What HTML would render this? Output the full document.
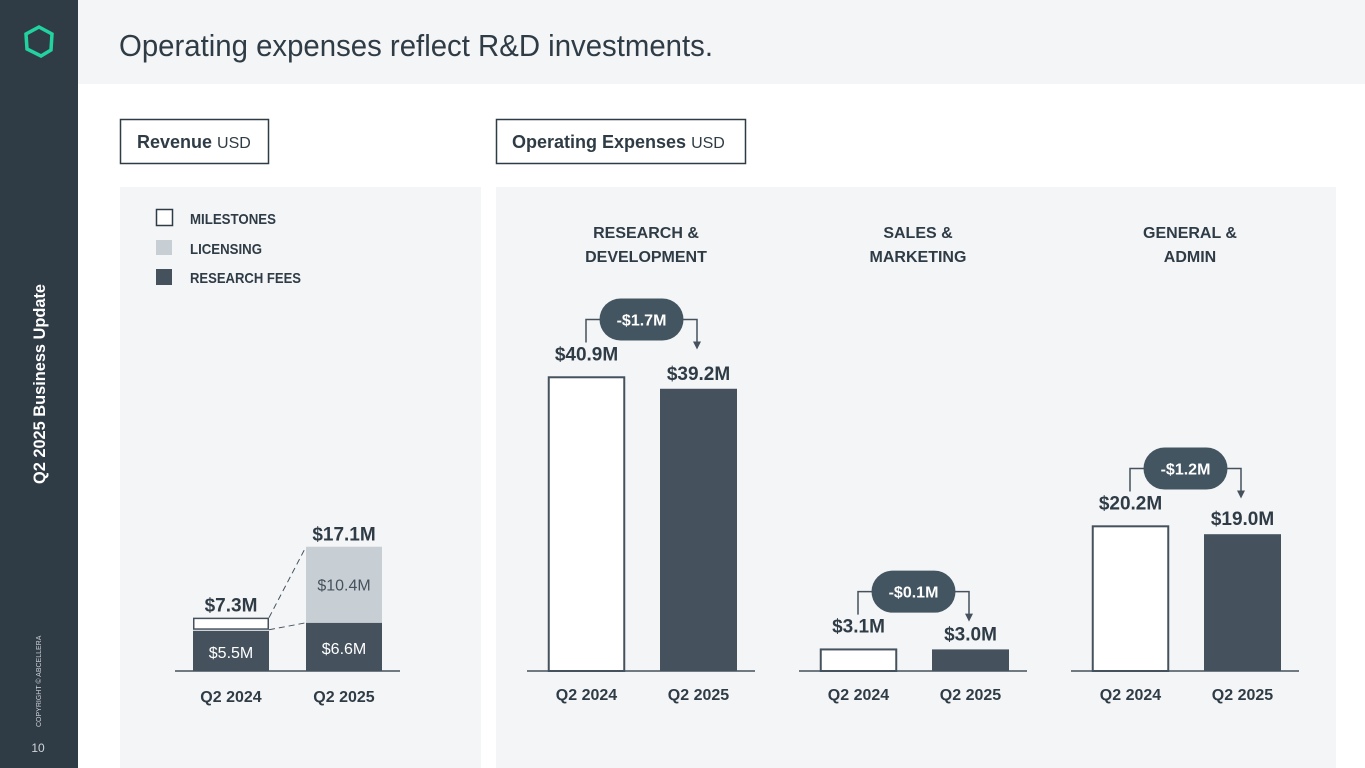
<!DOCTYPE html>
<html><head><meta charset="utf-8">
<style>
html,body{margin:0;padding:0;width:1365px;height:768px;overflow:hidden;background:#fff;font-family:"Liberation Sans",sans-serif}
svg{display:block}
</style></head>
<body>
<svg id="s" width="1365" height="768" viewBox="0 0 1365 768" xmlns="http://www.w3.org/2000/svg" font-family="Liberation Sans, sans-serif">
<rect x="0" y="0" width="78" height="768" fill="#2f3c46"/>
<polygon points="39,27 52,34 51,50 41,56 27,49 26,34" fill="none" stroke="#22d3a0" stroke-width="3.5"/>
<text transform="translate(45,484) rotate(-90)" fill="#fff" font-size="17" font-weight="bold" textLength="200" lengthAdjust="spacingAndGlyphs">Q2 2025 Business Update</text>
<text transform="translate(41,727) rotate(-90)" fill="#cfd4d8" font-size="7">COPYRIGHT © ABCELLERA</text>
<text x="38" y="752" text-anchor="middle" fill="#cfd4d8" font-size="12">10</text>
<rect x="78" y="0" width="1287" height="84" fill="#f4f5f6"/>
<text x="119" y="56" fill="#2f3c46" font-size="31" textLength="594" lengthAdjust="spacingAndGlyphs">Operating expenses reflect R&amp;D investments.</text>
<g>
<rect x="120.5" y="119.5" width="148" height="44" fill="#fff" stroke="#2f3c46" stroke-width="1.5"/>
<text x="137" y="148" fill="#2f3c46" font-size="18" font-weight="bold">Revenue <tspan font-weight="normal" font-size="16">USD</tspan></text>
</g>
<g>
<rect x="496.5" y="119.5" width="249" height="44" fill="#fff" stroke="#2f3c46" stroke-width="1.5"/>
<text x="512" y="148" fill="#2f3c46" font-size="18" font-weight="bold">Operating Expenses <tspan font-weight="normal" font-size="16">USD</tspan></text>
</g>
<rect x="120" y="187" width="361" height="581" fill="#f4f5f7"/>
<rect x="496" y="187" width="840" height="581" fill="#f4f5f7"/>
<g font-size="15" font-weight="bold" fill="#2f3c46">
<rect x="156.5" y="209.5" width="16" height="16" fill="#fff" stroke="#2f3c46" stroke-width="1.5"/>
<text x="190" y="224" textLength="86" lengthAdjust="spacingAndGlyphs">MILESTONES</text>
<rect x="156" y="240" width="16" height="15" fill="#c8cfd4"/>
<text x="190" y="254" textLength="72" lengthAdjust="spacingAndGlyphs">LICENSING</text>
<rect x="156" y="269" width="16" height="16" fill="#45525d"/>
<text x="190" y="283" textLength="111" lengthAdjust="spacingAndGlyphs">RESEARCH FEES</text>
</g>
<g id="rev"></g>
<g id="opex"></g>
</svg>
<script>
const NS="http://www.w3.org/2000/svg";
// Revenue data
const revCategories=["Q2 2024","Q2 2025"];
const revResearch=[5.5,6.6];
const revLicensing=[0,10.4];
const revMilestones=[1.8,0.1];
const revTotals=["$7.3M","$17.1M"];
// Opex data
const opexGroups=["RESEARCH &|DEVELOPMENT","SALES &|MARKETING","GENERAL &|ADMIN"];
const opexPrior=[40.9,3.1,20.2];
const opexCurrent=[39.2,3.0,19.0];
const opexDelta=["-$1.7M","-$0.1M","-$1.2M"];
const opexYears=["Q2 2024","Q2 2025"];

function mk(p,tag,attrs,txt){const e=document.createElementNS(NS,tag);for(const k in attrs)e.setAttribute(k,attrs[k]);if(txt!=null)e.textContent=txt;p.appendChild(e);return e;}
const base=671;
// revenue
const rs=125/17.1;
const ry=v=>base-v*rs;
const rx=i=>193+i*113;
const rev=document.getElementById('rev');
mk(rev,'line',{x1:175,y1:671,x2:400,y2:671,stroke:'#45525d','stroke-width':1.5});
const tops=[],mids=[];
revCategories.forEach((c,i)=>{
 const x=rx(i),w=76;
 const r=mk(rev,'rect',{x:x,y:ry(revResearch[i]),width:w,height:revResearch[i]*rs,fill:'#45525d'});
 
 
 mk(rev,'text',{x:x+w/2,y:(ry(revResearch[i])+base)/2+7,'text-anchor':'middle',fill:'#fff','font-size':16},'$'+revResearch[i].toFixed(1)+'M');
 let top=revResearch[i];
 if(revLicensing[i]>0){
  const l=mk(rev,'rect',{x:x,y:ry(top+revLicensing[i]),width:w,height:revLicensing[i]*rs,fill:'#c8cfd4'});
  
  
  mk(rev,'text',{x:x+w/2,y:ry(top+revLicensing[i]/2)+6,'text-anchor':'middle',fill:'#45525d','font-size':16},'$'+revLicensing[i].toFixed(1)+'M');
  top+=revLicensing[i];
 }else{
  const m=mk(rev,'rect',{x:x+0.75,y:ry(top+revMilestones[i])+0.75,width:w-1.5,height:revMilestones[i]*rs-2.5,fill:'#fff',stroke:'#45525d','stroke-width':1.5});
  
  
  top+=revMilestones[i];
 }
 tops.push(ry(top));mids.push(ry(revResearch[i]));
 const t=mk(rev,'text',{x:x+w/2,y:ry(top)-6,'text-anchor':'middle',fill:'#2f3c46','font-size':19,'font-weight':'bold'},revTotals[i]);
 
 
 const cl=mk(rev,'text',{x:x+w/2,y:702,'text-anchor':'middle',fill:'#2f3c46','font-size':16,'font-weight':'bold'},c);
 
 
});
mk(rev,'line',{x1:rx(0)+76,y1:tops[0],x2:rx(1),y2:tops[1],stroke:'#45525d','stroke-dasharray':'6,4'});
mk(rev,'line',{x1:rx(0)+76,y1:mids[0]-1,x2:rx(1),y2:mids[1],stroke:'#45525d','stroke-dasharray':'6,4'});
// opex
const os=7.2;
const oy=v=>base-v*os;
const og=document.getElementById('opex');
opexGroups.forEach((g,i)=>{
 const gx=527+i*272;
 const x0=gx+21,x1=gx+133,w=77;
 mk(og,'line',{x1:gx,y1:671,x2:gx+228,y2:671,stroke:'#45525d','stroke-width':1.5});
 const parts=g.split('|');
 parts.forEach((p,k)=>{const t=mk(og,'text',{x:gx+119,y:238+k*24,'text-anchor':'middle',fill:'#2f3c46','font-size':16,'font-weight':'bold'},p);
  
  });
 const b0=mk(og,'rect',{x:x0+0.75,y:oy(opexPrior[i])+0.75,width:w-1.5,height:opexPrior[i]*os-0.75,fill:'#fff',stroke:'#45525d','stroke-width':2});
 
 
 const b1=mk(og,'rect',{x:x1,y:oy(opexCurrent[i]),width:w,height:opexCurrent[i]*os,fill:'#45525d'});
 
 
 const t0=mk(og,'text',{x:x0+w/2,y:oy(opexPrior[i])-16,'text-anchor':'middle',fill:'#2f3c46','font-size':19,'font-weight':'bold'},'$'+opexPrior[i].toFixed(1)+'M');
 
 
 const t1=mk(og,'text',{x:x1+w/2,y:oy(opexCurrent[i])-9,'text-anchor':'middle',fill:'#2f3c46','font-size':19,'font-weight':'bold'},'$'+opexCurrent[i].toFixed(1)+'M');
 
 
 const by=oy(opexPrior[i])-57;
 const lx=x0+38,rxp=x1+37;
 mk(og,'path',{d:`M${lx},${by+23} V${by} H${rxp} V${by+23}`,fill:'none',stroke:'#45525d','stroke-width':1.5});
 mk(og,'polygon',{points:`${rxp-4},${by+22} ${rxp+4},${by+22} ${rxp},${by+30}`,fill:'#45525d'});
 const cx=(lx+rxp)/2;
 const pill=mk(og,'rect',{x:cx-42,y:by-21,width:84,height:42,rx:21,fill:'#435561'});
 
 
 mk(og,'text',{x:cx,y:by+6,'text-anchor':'middle',fill:'#fff','font-size':16,'font-weight':'bold'},opexDelta[i]);
 opexYears.forEach((yl,k)=>{const t=mk(og,'text',{x:(k?x1:x0)+w/2,y:700,'text-anchor':'middle',fill:'#2f3c46','font-size':16,'font-weight':'bold'},yl);
  
  });
});
</script>
</body></html>
